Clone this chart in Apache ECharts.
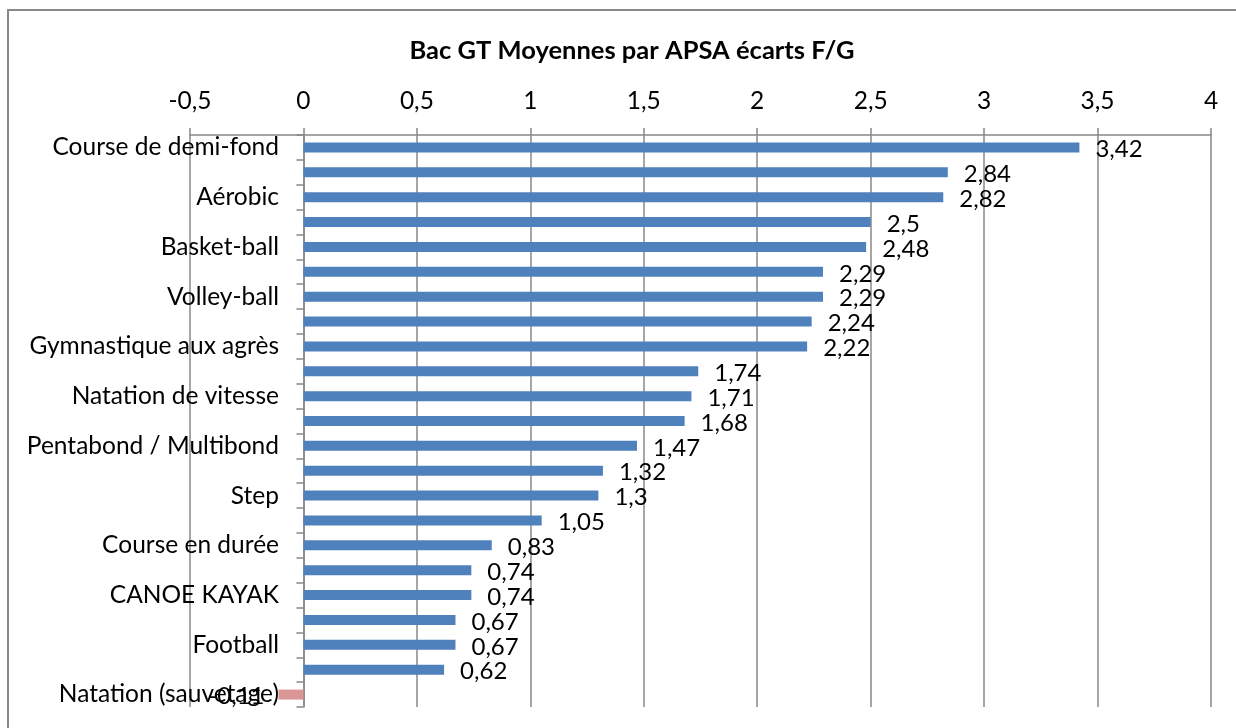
<!DOCTYPE html>
<html>
<head>
<meta charset="utf-8">
<script src="https://cdn.jsdelivr.net/npm/echarts@6/dist/echarts.min.js"></script>
<style>
html,body{margin:0;padding:0;background:#fff;}
#chart{width:1236px;height:728px;}
</style>
</head>
<body>
<div id="chart"></div>
<script>
// Categories (top to bottom); every other label is not displayed in the original
var categories = [
  "Course de demi-fond", "APSA 2", "Aérobic", "APSA 4", "Basket-ball", "APSA 6",
  "Volley-ball", "APSA 8", "Gymnastique aux agrès", "APSA 10", "Natation de vitesse",
  "APSA 12", "Pentabond / Multibond", "APSA 14", "Step", "APSA 16", "Course en durée",
  "APSA 18", "CANOE KAYAK", "APSA 20", "Football", "APSA 22", "Natation (sauvetage)"
];
var values = [3.42, 2.84, 2.82, 2.5, 2.48, 2.29, 2.29, 2.24, 2.22, 1.74, 1.71, 1.68,
              1.47, 1.32, 1.3, 1.05, 0.83, 0.74, 0.74, 0.67, 0.67, 0.62, -0.11];
var axisMin = -0.5, axisMax = 4, axisStep = 0.5;
var titleText = "Bac GT Moyennes par APSA écarts F/G";

var FONT = "Lato, 'Liberation Sans', sans-serif";
var chart = echarts.init(document.getElementById('chart'));
function fmt(v){ return String(v).replace('.', ','); }

var seriesData = values.map(function(v){
  var item = { value: v, itemStyle: { color: v < 0 ? '#D99694' : '#4F81BD' } };
  if (v < 0) item.label = { position: 'left', distance: 14 };
  return item;
});

chart.setOption({
  animation: false,
  backgroundColor: '#fff',
  title: {
    text: titleText, left: 627, textAlign: 'center', top: 33,
    textStyle: { fontFamily: FONT, fontSize: 25.5, fontWeight: 'bold', color: '#000' }
  },
  graphic: [{
    type: 'rect', silent: true, z: -10,
    shape: { x: 8, y: 10, width: 1260, height: 760 },
    style: { fill: 'none', stroke: '#888', lineWidth: 2 }
  }],
  grid: { left: 190, right: 25, top: 135, bottom: 21, containLabel: false, outerBoundsMode: 'none' },
  xAxis: {
    type: 'value', position: 'top', min: axisMin, max: axisMax, interval: axisStep,
    axisLine: { show: true, lineStyle: { color: '#888', width: 1.5 } },
    axisTick: { show: true, length: 7, lineStyle: { color: '#888', width: 1.5 } },
    splitLine: { show: true, lineStyle: { color: '#888', width: 1.5 } },
    axisLabel: { margin: 21, fontFamily: FONT, fontSize: 24.5, color: '#000', formatter: fmt }
  },
  yAxis: {
    type: 'category', inverse: true, data: categories,
    axisLine: { show: true, onZero: true, lineStyle: { color: '#888', width: 1.5 } },
    axisTick: { show: true, length: 7, interval: 0, alignWithLabel: false, lineStyle: { color: '#888', width: 1.5 } },
    axisLabel: {
      margin: -89, fontFamily: FONT, fontSize: 24.5, color: '#000',
      interval: function(idx){ return idx % 2 === 0; }
    }
  },
  series: [{
    type: 'bar', data: seriesData, barWidth: 10,
    label: {
      show: true, position: 'right', distance: 16, offset: [0, 2],
      fontFamily: FONT, fontSize: 24, color: '#000',
      formatter: function(p){ return fmt(p.value); }
    }
  }]
});
</script>
</body>
</html>
